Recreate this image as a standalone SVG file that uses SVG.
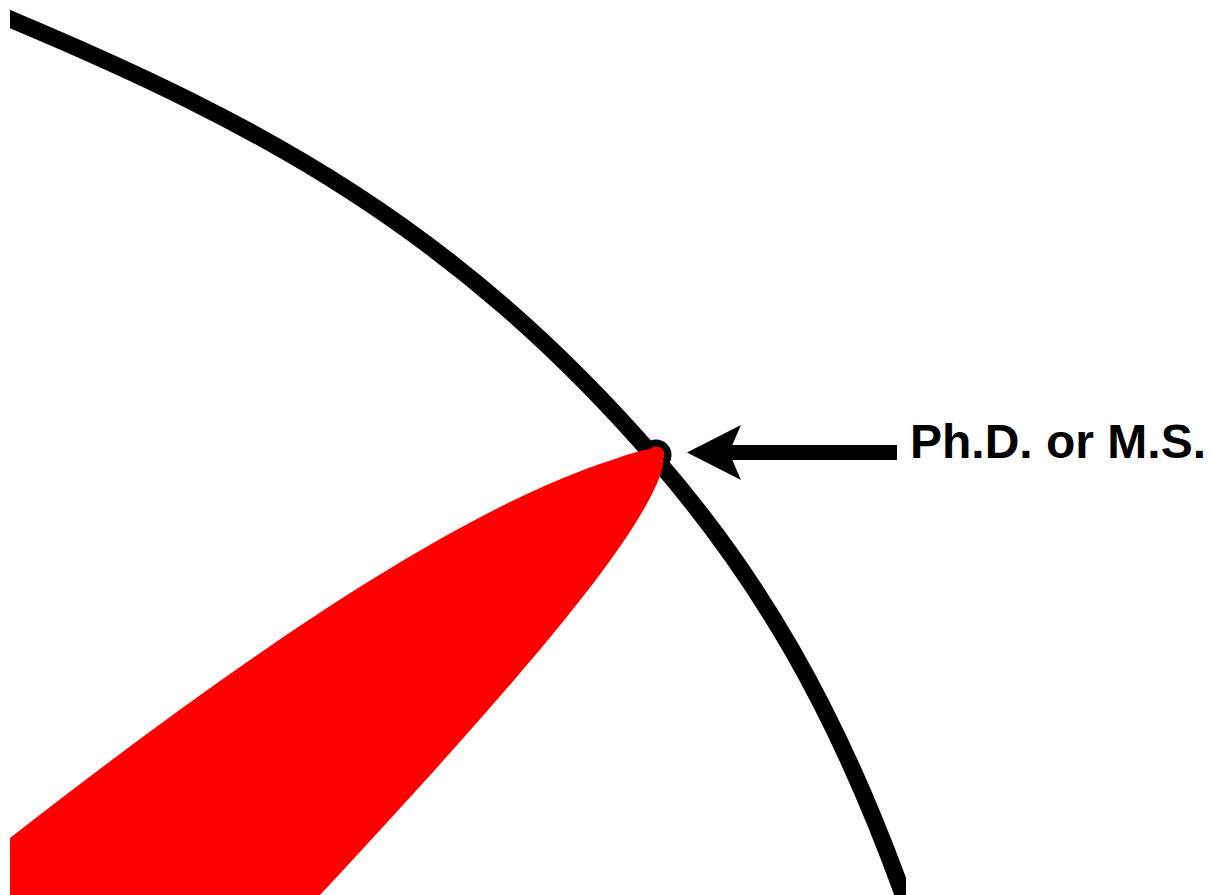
<svg xmlns="http://www.w3.org/2000/svg" width="1211" height="895" viewBox="0 0 1211 895">
  <style>
    .arc { fill: none; stroke: #000; stroke-width: 17; }
    .red { fill: #ff0000; }
    .lbl { font-family: "Liberation Sans", Arial, sans-serif; font-weight: bold; font-size: 48px; fill: #000; }
  </style>
  <defs>
    <clipPath id="frame"><rect x="10" y="0" width="896" height="895"/></clipPath>
  </defs>
  <rect width="1211" height="895" fill="#fff"/>
  <g id="scene" clip-path="url(#frame)">
    <g id="boundary">
      <path class="arc" d="M -10,10.6 L 10,19 C 260,124 455,228 655,458 C 755,573 835,704 905,900"/>
    </g>
    <g id="bump">
      <circle cx="656" cy="455" r="12" fill="#ff0000" stroke="#000" stroke-width="7"/>
    </g>
    <g id="knowledge">
      <path class="red" d="M 0,846 L 10,838 C 200,690 440,515 612,460 Q 648,447 657,449 Q 666,454 662,470 C 640,540 520,680 320,895 L 0,895 Z"/>
    </g>
  </g>
  <g id="connectors">
    <rect x="726" y="445" width="171" height="15" fill="#000"/>
    <polygon points="687,452.5 741,425 729,452.5 741,480" fill="#000"/>
  </g>
  <g id="label">
    <text class="lbl" x="910" y="458">Ph.D. or M.S.</text>
  </g>
</svg>
